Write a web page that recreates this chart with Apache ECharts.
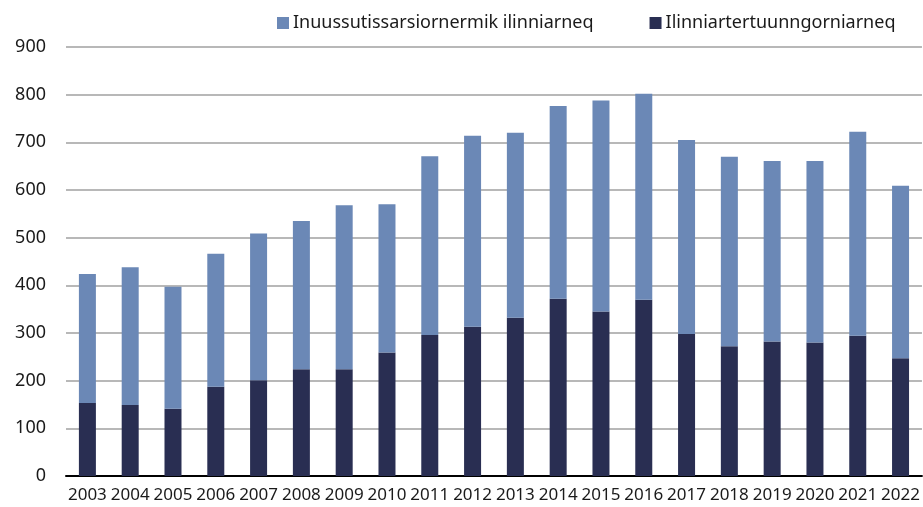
<!DOCTYPE html>
<html>
<head>
<meta charset="utf-8">
<title>Ilinniarneq 2003-2022</title>
<style>
  html, body { margin: 0; padding: 0; background: #fff; }
  #chart { width: 923px; height: 507px; }
</style>
</head>
<body>
<div id="chart"></div>
<script src="https://cdn.jsdelivr.net/npm/echarts@6/dist/echarts.min.js"></script>
<script>
// years on the x axis
var years = ["2003", "2004", "2005", "2006", "2007", "2008", "2009", "2010", "2011", "2012",
  "2013", "2014", "2015", "2016", "2017", "2018", "2019", "2020", "2021", "2022"];

// bottom part (dark)
var ilinniartertuunngorniarneq = [153, 149, 141, 187, 201, 224, 224, 259, 296, 313,
  332, 372, 345, 370, 298, 272, 282, 280, 294, 247];

// top part (light), stacked on the dark one
var inuussutissarsiornermik = [271, 289, 256, 279, 308, 311, 344, 311, 375, 401,
  388, 404, 443, 432, 407, 398, 379, 381, 428, 362];

var nameLight = "Inuussutissarsiornermik ilinniarneq";
var nameDark = "Ilinniartertuunngorniarneq";

var font = "Noto Sans";

var chart = echarts.init(document.getElementById("chart"));
chart.setOption({
  animation: false,
  textStyle: { fontFamily: font },
  legend: {
    left: 272,
    top: 9,
    itemWidth: 12,
    itemHeight: 12,
    itemGap: 56,
    icon: "rect",
    textStyle: { fontFamily: font, fontSize: 18, color: "#1a1a1a", padding: [0, 0, 0, -1] },
    data: [nameLight, nameDark]
  },
  grid: { left: 66, right: 1, top: 47, bottom: 31 },
  xAxis: {
    type: "category",
    data: years,
    axisLine: { lineStyle: { color: "#000", width: 2 } },
    axisTick: { show: false },
    axisLabel: { fontFamily: font, fontSize: 17, color: "#1a1a1a", margin: 11, interval: 0 }
  },
  yAxis: {
    type: "value",
    min: 0,
    max: 900,
    interval: 100,
    axisLine: { show: false },
    axisTick: { show: false },
    axisLabel: { fontFamily: font, fontSize: 18, color: "#1a1a1a", margin: 20 },
    splitLine: { lineStyle: { color: "#a0a0a0", width: 1.5 } }
  },
  series: [
    {
      name: nameDark,
      type: "bar",
      stack: "total",
      barWidth: 17,
      itemStyle: { color: "#292e52" },
      data: ilinniartertuunngorniarneq
    },
    {
      name: nameLight,
      type: "bar",
      stack: "total",
      barWidth: 17,
      itemStyle: { color: "#6b88b6" },
      data: inuussutissarsiornermik
    }
  ]
});
</script>
</body>
</html>
